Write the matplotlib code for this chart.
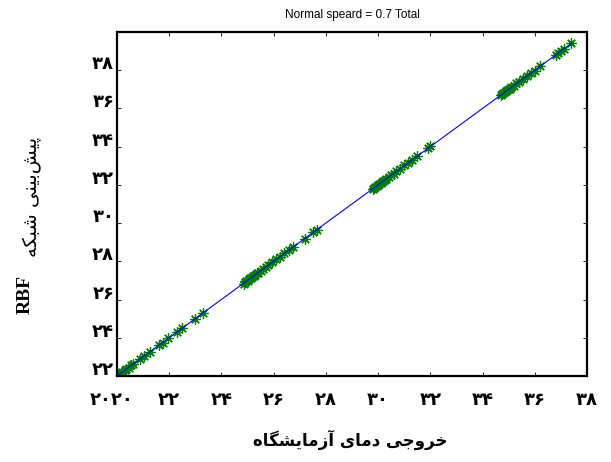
import numpy as np
import matplotlib
matplotlib.use("Agg")
import matplotlib.pyplot as plt
from matplotlib.transforms import ScaledTranslation

# ---------------- data ----------------
observed = [20.0, 20.05, 20.1, 20.15, 20.2, 20.3, 20.35, 20.45, 20.55, 20.6, 20.9, 21.05,
            21.25, 21.6, 21.75, 21.95, 22.3, 22.5, 23.0, 23.3,
            24.85, 24.9, 24.95, 25.0, 25.05, 25.1, 25.15, 25.2, 25.25, 25.3, 25.35, 25.4,
            25.5, 25.6, 25.7, 25.8, 25.95, 26.1, 26.25, 26.4, 26.6, 26.75, 27.2, 27.5, 27.65,
            29.8, 29.85, 29.9, 29.95, 30.0, 30.05, 30.1, 30.15, 30.2, 30.25, 30.3, 30.4,
            30.5, 30.6, 30.7, 30.85, 31.0, 31.15, 31.3, 31.5, 31.9, 32.0,
            34.7, 34.75, 34.8, 34.85, 34.9, 34.95, 35.0, 35.05, 35.1, 35.2, 35.3, 35.4,
            35.55, 35.7, 35.85, 36.0, 36.2,
            36.8, 36.9, 37.0, 37.1, 37.4]
predicted = [22.02, 22.08, 22.1, 22.18, 22.21, 22.29, 22.38, 22.44, 22.57, 22.62, 22.88, 23.07,
             23.24, 23.62, 23.74, 23.97, 24.29, 24.52, 24.98, 25.31,
             26.83, 26.92, 26.97, 26.99, 27.06, 27.12, 27.14, 27.22, 27.24, 27.31, 27.37, 27.41,
             27.49, 27.62, 27.69, 27.82, 27.94, 28.11, 28.24, 28.42, 28.58, 28.77, 29.18, 29.52, 29.66,
             31.78, 31.86, 31.91, 31.94, 32.02, 32.04, 32.12, 32.14, 32.21, 32.24, 32.32, 32.39,
             32.52, 32.58, 32.71, 32.84, 33.02, 33.14, 33.31, 33.49, 33.91, 34.02,
             36.68, 36.77, 36.79, 36.86, 36.91, 36.94, 37.02, 37.04, 37.12, 37.19, 37.31, 37.38,
             37.56, 37.69, 37.86, 37.98, 38.21,
             38.79, 38.92, 38.98, 39.11, 39.42]

x_ticks = [20, 22, 24, 26, 28, 30, 32, 34, 36, 38]
x_ticklabels = ["۲۰۲۰", "۲۲", "۲۴", "۲۶", "۲۸", "۳۰", "۳۲", "۳۴", "۳۶", "۳۸"]
y_ticks = [22, 24, 26, 28, 30, 32, 34, 36, 38]
y_ticklabels = ["۲۲", "۲۴", "۲۶", "۲۸", "۳۰", "۳۲", "۳۴", "۳۶", "۳۸"]

title_text = "Normal speard = 0.7 Total"
xlabel_text = "خروجی دمای آزمایشگاه"
ylabel_fa = "پیش‌بینی شبکه"
ylabel_en = "RBF"

# ---------------- minimal Persian shaping (matplotlib has no complex text layout) -------------
FORMS = {  # isolated, final, initial, medial
    'ا': ('\uFE8D', '\uFE8E', None, None),
    'آ': ('\uFE81', '\uFE82', None, None),
    'ب': ('\uFE8F', '\uFE90', '\uFE91', '\uFE92'),
    'پ': ('\uFB56', '\uFB57', '\uFB58', '\uFB59'),
    'ج': ('\uFE9D', '\uFE9E', '\uFE9F', '\uFEA0'),
    'خ': ('\uFEA5', '\uFEA6', '\uFEA7', '\uFEA8'),
    'د': ('\uFEA9', '\uFEAA', None, None),
    'ر': ('\uFEAD', '\uFEAE', None, None),
    'ز': ('\uFEAF', '\uFEB0', None, None),
    'ش': ('\uFEB5', '\uFEB6', '\uFEB7', '\uFEB8'),
    'ک': ('\uFB8E', '\uFB8F', '\uFB90', '\uFB91'),
    'گ': ('\uFB92', '\uFB93', '\uFB94', '\uFB95'),
    'م': ('\uFEE1', '\uFEE2', '\uFEE3', '\uFEE4'),
    'ن': ('\uFEE5', '\uFEE6', '\uFEE7', '\uFEE8'),
    'ه': ('\uFEE9', '\uFEEA', '\uFEEB', '\uFEEC'),
    'و': ('\uFEED', '\uFEEE', None, None),
    'ی': ('\uFBFC', '\uFBFD', '\uFBFE', '\uFBFF'),
}


def shape_rtl(s):
    out = []
    n = len(s)
    for i, c in enumerate(s):
        if c == '\u200c':
            continue
        if c not in FORMS:
            out.append(c)
            continue
        iso, fin, ini, med = FORMS[c]
        prev = s[i - 1] if i > 0 else None
        nxt = s[i + 1] if i + 1 < n else None
        jp = prev in FORMS and FORMS[prev][2] is not None
        jn = nxt in FORMS and ini is not None
        if jp and jn:
            out.append(med)
        elif jp:
            out.append(fin)
        elif jn:
            out.append(ini)
        else:
            out.append(iso)
    return ''.join(out)[::-1]


# ---------------- figure ----------------
fig = plt.figure(figsize=(6.11, 4.62), dpi=100)
ax = fig.add_axes([117 / 611, 1 - 376 / 462, 470 / 611, 344 / 462])

obs = np.array(observed)
pred = np.array(predicted)
coef = np.polyfit(obs, pred, 1)
lx = np.array([obs.min(), obs.max()])
ax.plot(obs, pred, linestyle='none', marker=(8, 2, 0), markersize=7.5,
        markeredgewidth=0.9, color='#008000', zorder=2)
ax.plot(lx, np.polyval(coef, lx), color='#0000ff', lw=0.8, zorder=3)

ax.set_xlim(20, 38)
ax.set_ylim(22, 40)
ax.set_xticks(x_ticks)
ax.set_yticks(y_ticks)
ax.set_xticklabels(x_ticklabels, fontsize=13, fontweight='bold', family='DejaVu Sans')
ax.set_yticklabels(y_ticklabels, fontsize=13, fontweight='bold', family='DejaVu Sans')
ax.tick_params(direction='in', length=3, width=0.6, top=True, right=True)
ax.tick_params(axis='x', pad=11)
ax.tick_params(axis='y', pad=2)
for sp in ax.spines.values():
    sp.set_linewidth(1.6)

for lab in ax.get_yticklabels():
    lab.set_transform(lab.get_transform() + ScaledTranslation(0, 8 / 100, fig.dpi_scale_trans))
xl = ax.get_xticklabels()
xl[0].set_transform(xl[0].get_transform() + ScaledTranslation(-5 / 100, 0, fig.dpi_scale_trans))

ax.set_title(title_text, fontsize=8.5, family='Liberation Sans', pad=10)

fig.text(350 / 611, 1 - 440 / 462, shape_rtl(xlabel_text), ha='center', va='center',
         fontsize=12, fontweight='bold', family='DejaVu Sans')
fig.text(25 / 611, 1 - 294 / 462, ylabel_en, rotation=90, ha='center', va='center',
         fontsize=14, fontweight='bold', family='Liberation Serif')
fig.text(32 / 611, 1 - 197 / 462, shape_rtl(ylabel_fa), rotation=90, ha='center', va='center',
         fontsize=14, family='DejaVu Sans')

fig.savefig('out.png', dpi=100)
